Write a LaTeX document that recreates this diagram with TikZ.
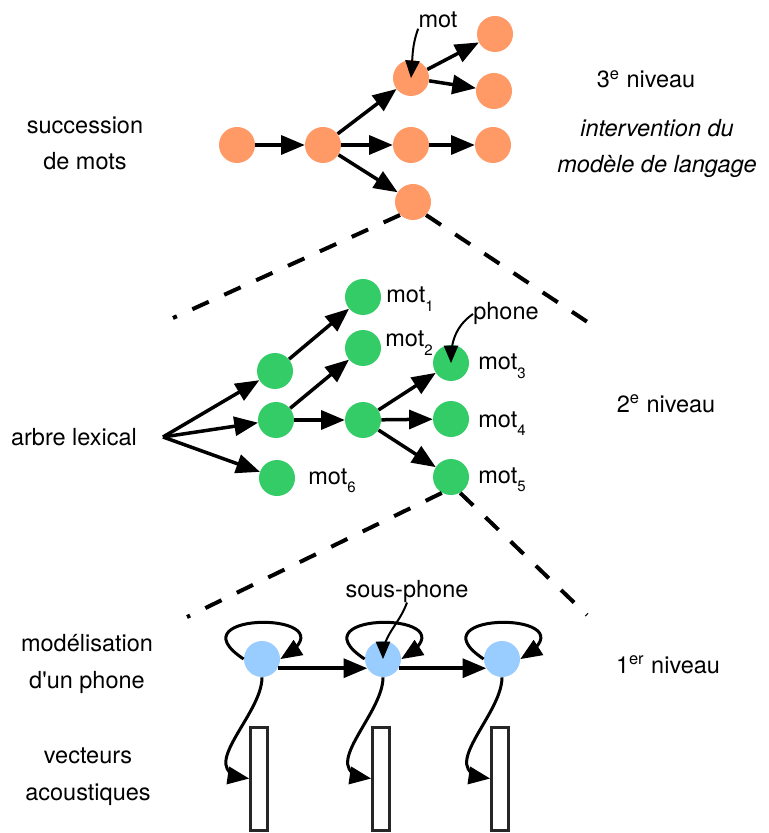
\documentclass[tikz,border=0pt]{standalone}
\usepackage{fontspec}
\setmainfont{TeX Gyre Heros}
\usetikzlibrary{arrows}
\definecolor{motorange}{RGB}{255,153,102}
\definecolor{lexgreen}{RGB}{51,204,102}
\definecolor{phoneblue}{RGB}{153,204,255}
\newcommand{\taille}{\fontsize{11.75}{18.25}\selectfont}
\newcommand{\indice}[1]{\raisebox{-0.38em}{\fontsize{7.5}{9}\selectfont #1}}

\begin{document}
\begin{tikzpicture}[x=0.5pt,y=-0.5pt,>=triangle 45,font=\taille]
	\tikzstyle{motc} = [circle,fill=motorange,minimum size=18pt,inner sep=0pt];
	\tikzstyle{lexc} = [circle,fill=lexgreen,minimum size=18pt,inner sep=0pt];
	\tikzstyle{phc} = [circle,fill=phoneblue,minimum size=18pt,inner sep=0pt];
	\tikzstyle{vec} = [rectangle,draw=black!85,line width=1.5pt,minimum width=8.5pt,minimum height=51.5pt,inner sep=0pt];
	\tikzstyle{txt} = [inner sep=0pt,anchor=base,align=center];
	\tikzstyle{fleche} = [->,line width=1.75pt];
	\tikzstyle{boucle} = [->,line width=1.5pt];
	\tikzstyle{renvoi} = [->,line width=1pt];
	\tikzstyle{niveau} = [line width=2pt,dash pattern=on 9pt off 8.5pt];
	\useasboundingbox (0,0) rectangle (768,833);
	% 3e niveau : succession de mots
	\node[txt] (succ) at (85,170) {succession\\de mots};
	\node[txt] (niv3) at (646,88) {3\textsuperscript{e} niveau};
	\node[txt,font=\taille\itshape] (ml) at (657,173) {intervention du\\modèle de langage};
	\node[motc] (o1) at (237,145) {};
	\node[motc] (o2) at (323,145) {};
	\node[motc] (o3) at (411,78) {};
	\node[motc] (o4) at (411,145) {};
	\node[motc] (o5) at (413,202) {};
	\node[motc] (o6) at (495,34) {};
	\node[motc] (o7) at (494,91) {};
	\node[motc] (o8) at (493,145) {};
	\draw[fleche] (o1) -- (o2);
	\draw[fleche] (o2) -- (o3);
	\draw[fleche] (o2) -- (o4);
	\draw[fleche] (o2) -- (o5);
	\draw[fleche] (o3) -- (o6);
	\draw[fleche] (o3) -- (o7);
	\draw[fleche] (o4) -- (o8);
	\node[txt] (motlbl) at (438,28) {mot};
	\draw[renvoi] (motlbl.south west) to[out=-110,in=85] (o3.center);
	\coordinate (c3g) at (173,318);
	\coordinate (c3d) at (595,327);
	\draw[niveau] (o5.225) -- (c3g);
	\draw[niveau] (o5.-45) -- (c3d);
	% 2e niveau : arbre lexical
	\node[txt] (arbre) at (74,445) {arbre lexical};
	\node[txt] (niv2) at (666,412) {2\textsuperscript{e} niveau};
	\coordinate (racine) at (163,437);
	\node[lexc] (ga) at (275,371) {};
	\node[lexc] (gb) at (276,420) {};
	\node[lexc] (gc) at (277,478) {};
	\node[lexc] (gd) at (363,420) {};
	\node[lexc] (g1) at (363,297) {};
	\node[lexc] (g2) at (363,348) {};
	\node[lexc] (g3) at (451,363) {};
	\node[lexc] (g4) at (451,419) {};
	\node[lexc] (g5) at (451,477) {};
	\draw[fleche] (racine) -- (ga);
	\draw[fleche] (racine) -- (gb);
	\draw[fleche] (racine) -- (gc);
	\draw[fleche] (ga) -- (g1);
	\draw[fleche] (gb) -- (g2);
	\draw[fleche] (gb) -- (gd);
	\draw[fleche] (gd) -- (g3);
	\draw[fleche] (gd) -- (g4);
	\draw[fleche] (gd) -- (g5);
	\node[txt,anchor=base west] (m1) at (386,303) {mot\indice{1}};
	\node[txt,anchor=base west] (m2) at (385,347) {mot\indice{2}};
	\node[txt,anchor=base west] (m3) at (478,370) {mot\indice{3}};
	\node[txt,anchor=base west] (m4) at (478,427) {mot\indice{4}};
	\node[txt,anchor=base west] (m5) at (478,483) {mot\indice{5}};
	\node[txt,anchor=base west] (m6) at (308,484) {mot\indice{6}};
	\node[txt] (phonelbl) at (506,320) {phone};
	\draw[renvoi] (phonelbl.west) to[out=215,in=90] (g3.center);
	\coordinate (c2g) at (187,617);
	\coordinate (c2d) at (587,615);
	\draw[niveau] (g5.240) -- (c2g);
	\draw[niveau] (g5.-60) -- (c2d);
	% 1er niveau : phones et vecteurs
	\node[txt] (modl) at (87,688) {modélisation\\d\textquotesingle un phone};
	\node[txt] (vect) at (88,800) {vecteurs\\acoustiques};
	\node[txt] (niv1) at (668,673) {1\textsuperscript{er} niveau};
	\node[phc] (b1) at (262,659) {};
	\node[phc] (b2) at (383,659) {};
	\node[phc] (b3) at (502,659) {};
	\node[vec] (r1) at (259,778.5) {};
	\node[vec] (r2) at (381,778.5) {};
	\node[vec] (r3) at (500,778.5) {};
	\foreach \b/\r in {b1/r1,b2/r2,b3/r3} {
		\draw[boucle] (\b.west) .. controls +(-74,-49) and +(75,-48) .. (\b.east);
		\draw[boucle] (\b.south) .. controls +(0,38) and +(-55,-8) .. (\r.west);
	}
	\draw[fleche] (b1.-30) -- (b2.210);
	\draw[fleche] (b2.-30) -- (b3.210);
	\node[txt] (splbl) at (407,597) {sous-phone};
	\draw[renvoi] (splbl.south) to[out=-110,in=90] (b2.center);
\end{tikzpicture}
\end{document}
